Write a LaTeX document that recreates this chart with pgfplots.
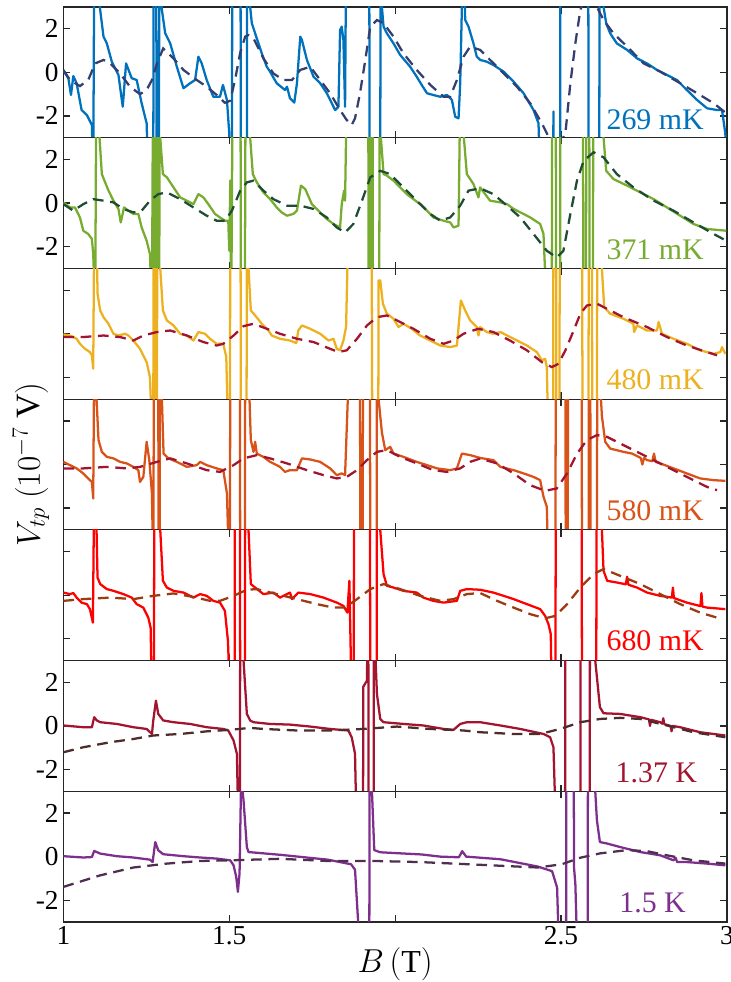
\documentclass[border=0pt]{standalone}
\usepackage{pgfplots}
\pgfplotsset{compat=1.18}
\usepackage{fontspec}
\setmainfont{Liberation Serif}
\definecolor{cA}{HTML}{0072BD}
\definecolor{dA}{HTML}{333F70}
\definecolor{cB}{HTML}{77AC30}
\definecolor{dB}{HTML}{1E4D33}
\definecolor{cC}{HTML}{EDB120}
\definecolor{dC}{HTML}{A2142F}
\definecolor{cD}{HTML}{D95319}
\definecolor{dD}{HTML}{A2142F}
\definecolor{cE}{HTML}{FF0000}
\definecolor{dE}{HTML}{9C3A12}
\definecolor{cF}{HTML}{A2142F}
\definecolor{dF}{HTML}{4E2C2C}
\definecolor{cG}{HTML}{7E2F8E}
\definecolor{dG}{HTML}{4F2F4F}
\pgfplotsset{
 panel/.style={width=497.55pt,height=98pt,scale only axis,xmin=1,xmax=3,ymin=-3,ymax=3,
  xtick={1,1.5,2,2.5,3},ytick={-2,0,2},xticklabels={},yticklabels={\mbox{-2},\mbox{0},\mbox{2}},
  tick align=inside, tick pos=both, major tick length=5pt,
  axis line style={black!85,line width=0.9pt}, tick style={black!85,line width=0.9pt},
  ticklabel style={font=\fontsize{20.5}{24}\selectfont}}
}
\tikzset{
 sol/.style={line width=1.7pt,line join=round},
 dsh/.style={line width=1.7pt,dash pattern=on 8pt off 5pt},
 lab/.style={anchor=base east,font=\fontsize{22.4}{26}\selectfont}
}
\begin{document}
\begin{tikzpicture}
\useasboundingbox (-47.5pt,-45pt) rectangle (500pt,691.25pt);
% ---------- 269 mK
\begin{axis}[panel,at={(0pt,588pt)}]
\addplot[cA,sol] coordinates {(1.000,0.08)(1.015,-0.27)(1.023,-1.04)(1.030,-0.17)(1.040,-0.5)(1.055,-1.73)(1.071,-1.96)(1.086,-2.42)(1.090,-5)(1.093,5)(1.111,2.86)(1.121,1.64)(1.131,1.33)(1.146,0.49)(1.166,-0.12)(1.179,-1.58)(1.189,0.41)(1.206,-0.27)(1.221,-0.35)(1.236,-1.42)(1.251,-2.34)(1.256,-5)(1.271,-5)(1.272,5)(1.280,5)(1.281,-5)(1.288,-5)(1.289,5)(1.297,2.86)(1.307,1.79)(1.322,1.33)(1.342,0.26)(1.362,-0.73)(1.382,-0.5)(1.397,-0.35)(1.407,0.72)(1.417,0.41)(1.432,-0.35)(1.452,-1.12)(1.472,-1.12)(1.481,-0.58)(1.493,-1.27)(1.500,-2.8)(1.503,-5)(1.508,-5)(1.509,5)(1.534,5)(1.535,-5)(1.553,-5)(1.554,5)(1.563,3.0)(1.568,2.25)(1.578,1.79)(1.598,0.87)(1.613,0.26)(1.623,0.03)(1.643,-0.5)(1.668,-0.81)(1.674,-0.66)(1.683,-1.19)(1.696,-1.39)(1.704,-0.5)(1.714,1.64)(1.719,1.48)(1.734,0.57)(1.754,-0.2)(1.774,-0.5)(1.794,-0.96)(1.809,-1.42)(1.819,-1.73)(1.829,-1.58)(1.834,1.94)(1.839,2.1)(1.844,1.48)(1.849,-1.58)(1.852,5)(1.922,5)(1.923,-5)(1.955,-5)(1.956,5)(1.960,3.0)(1.965,2.1)(1.975,1.79)(1.995,1.33)(2.015,0.8)(2.045,0.26)(2.065,-0.2)(2.080,-0.58)(2.096,-0.96)(2.115,-1.04)(2.136,-1.12)(2.156,-1.04)(2.171,-1.27)(2.181,-2.04)(2.191,-2.11)(2.196,-0.5)(2.204,5)(2.208,5)(2.211,2.4)(2.221,2.1)(2.236,1.33)(2.246,0.72)(2.256,0.57)(2.276,0.49)(2.296,0.34)(2.327,0.03)(2.357,-0.43)(2.387,-0.96)(2.417,-1.73)(2.432,-2.34)(2.437,-5)(2.476,-5)(2.477,-1.8)(2.478,-5)(2.497,-5)(2.498,5)(2.582,5)(2.583,-5)(2.615,-5)(2.616,5)(2.628,3.0)(2.636,2.25)(2.648,1.79)(2.668,1.33)(2.699,1.03)(2.729,0.64)(2.759,0.41)(2.789,0.11)(2.819,-0.12)(2.849,-0.35)(2.879,-0.81)(2.910,-1.27)(2.940,-1.65)(2.970,-1.73)(2.985,-1.73)(2.995,-2.8)(3.0,-5)};
\addplot[dA,dsh] coordinates {(1.000,0.11)(1.020,-0.35)(1.050,-0.63)(1.075,-0.35)(1.096,0.41)(1.121,0.57)(1.141,0.41)(1.171,-0.05)(1.201,-0.66)(1.231,-1.0)(1.251,-0.81)(1.267,-0.35)(1.282,0.41)(1.301,1.1)(1.332,0.64)(1.362,0.11)(1.402,-0.35)(1.432,-0.66)(1.462,-1.04)(1.487,-1.4)(1.503,-1.3)(1.518,-0.3)(1.533,0.9)(1.548,1.64)(1.558,1.71)(1.573,1.56)(1.603,0.64)(1.633,-0.05)(1.663,-0.35)(1.689,-0.35)(1.714,0.11)(1.744,0.26)(1.774,-0.35)(1.804,-0.96)(1.834,-1.73)(1.854,-2.19)(1.869,-2.42)(1.879,-2.11)(1.894,-0.96)(1.910,0.57)(1.925,2.1)(1.945,2.4)(1.965,2.25)(1.995,1.64)(2.025,0.87)(2.065,0.11)(2.106,-0.58)(2.146,-1.12)(2.166,-1.12)(2.186,-0.35)(2.206,0.72)(2.226,1.18)(2.256,1.03)(2.286,0.57)(2.327,-0.05)(2.367,-0.66)(2.407,-1.42)(2.442,-2.34)(2.467,-3.1)(2.485,-3.6)(2.513,-2.8)(2.528,-0.5)(2.543,1.33)(2.558,2.86)(2.573,3.5)(2.594,3.5)(2.608,3.0)(2.628,2.4)(2.658,1.79)(2.699,1.18)(2.749,0.41)(2.799,0.03)(2.859,-0.5)(2.910,-0.96)(2.960,-1.42)(2.998,-1.88)};
\node[lab,text=cA] at (rel axis cs:0.972,0.06) {269 mK};
\end{axis}
% ---------- 371 mK
\begin{axis}[panel,at={(0pt,490pt)}]
\addplot[cB,sol] coordinates {(1.000,0.03)(1.020,-0.2)(1.035,-0.2)(1.050,-0.66)(1.060,-1.27)(1.075,-1.42)(1.086,-1.65)(1.090,-2.34)(1.096,-5)(1.099,5)(1.109,3.0)(1.116,1.33)(1.126,0.95)(1.136,0.57)(1.151,0.11)(1.166,-0.27)(1.173,-0.89)(1.183,-0.2)(1.196,-0.35)(1.211,-0.5)(1.226,-0.5)(1.236,-1.12)(1.251,-1.73)(1.261,-2.34)(1.267,-5)(1.270,5)(1.275,5)(1.276,-5)(1.281,-5)(1.282,5)(1.284,5)(1.285,-5)(1.289,-5)(1.290,5)(1.292,3.0)(1.300,1.33)(1.312,1.18)(1.332,0.72)(1.352,0.26)(1.372,0.11)(1.392,-0.05)(1.407,0.41)(1.422,0.26)(1.437,-0.05)(1.457,-0.5)(1.472,-0.66)(1.487,-0.81)(1.497,-0.81)(1.500,-2.19)(1.503,1.03)(1.506,-5)(1.510,5)(1.534,5)(1.535,-5)(1.547,-5)(1.549,5)(1.563,3.0)(1.571,1.33)(1.583,0.95)(1.603,0.49)(1.623,0.18)(1.643,-0.2)(1.658,-0.43)(1.674,-0.58)(1.693,-0.5)(1.704,-0.35)(1.716,0.8)(1.729,0.64)(1.749,-0.05)(1.769,-0.35)(1.794,-0.73)(1.814,-0.96)(1.834,-1.12)(1.839,-0.05)(1.846,0.57)(1.849,0.11)(1.854,5)(1.919,5)(1.920,-5)(1.922,-5)(1.923,5)(1.926,5)(1.927,-5)(1.929,-5)(1.930,5)(1.932,5)(1.933,-5)(1.952,-5)(1.953,5)(1.957,3.0)(1.965,1.33)(1.975,1.26)(1.995,1.03)(2.015,0.72)(2.035,0.41)(2.055,0.18)(2.075,-0.05)(2.096,-0.35)(2.115,-0.66)(2.146,-0.81)(2.166,-0.89)(2.176,-1.12)(2.191,-1.04)(2.196,5)(2.206,3.2)(2.216,1.33)(2.236,0.87)(2.251,0.26)(2.256,0.72)(2.286,0.11)(2.317,0.03)(2.337,-0.05)(2.357,-0.27)(2.387,-0.5)(2.407,-0.66)(2.437,-0.96)(2.447,-1.42)(2.457,-5)(2.472,-5)(2.473,5)(2.484,5)(2.485,-5)(2.497,-5)(2.498,5)(2.566,5)(2.567,-5)(2.575,-5)(2.576,5)(2.585,5)(2.586,-5)(2.596,-5)(2.597,5)(2.628,3.0)(2.636,1.48)(2.658,1.1)(2.699,0.8)(2.739,0.49)(2.779,0.18)(2.819,-0.2)(2.859,-0.58)(2.899,-0.96)(2.940,-1.19)(2.998,-1.27)};
\addplot[dB,dsh] coordinates {(1.000,-0.05)(1.030,-0.35)(1.060,-0.05)(1.090,0.18)(1.121,0.11)(1.151,0.03)(1.181,-0.27)(1.211,-0.43)(1.236,-0.35)(1.261,0.11)(1.286,0.41)(1.312,0.49)(1.352,0.18)(1.392,-0.2)(1.432,-0.58)(1.462,-0.81)(1.487,-0.81)(1.508,-0.35)(1.533,0.57)(1.553,0.95)(1.573,1.03)(1.603,0.57)(1.633,0.18)(1.674,-0.12)(1.714,-0.12)(1.754,-0.27)(1.794,-0.66)(1.824,-1.12)(1.849,-1.35)(1.874,-0.96)(1.900,0.11)(1.925,1.18)(1.955,1.48)(1.985,1.33)(2.025,0.72)(2.065,0.11)(2.106,-0.5)(2.136,-0.81)(2.166,-0.66)(2.196,-0.12)(2.221,0.57)(2.256,0.68)(2.296,0.41)(2.337,-0.12)(2.377,-0.66)(2.417,-1.42)(2.457,-2.19)(2.487,-2.5)(2.507,-2.19)(2.528,-0.5)(2.548,1.03)(2.568,1.94)(2.598,2.33)(2.628,2.1)(2.668,1.33)(2.718,0.72)(2.779,0.11)(2.839,-0.35)(2.899,-0.89)(2.960,-1.42)(2.998,-1.73)};
\node[lab,text=cB] at (rel axis cs:0.972,0.07) {371 mK};
\end{axis}
% ---------- 480 mK
\begin{axis}[panel,at={(0pt,392pt)},yticklabels={}]
\addplot[cC,sol] coordinates {(1.000,-0.03)(1.020,-0.08)(1.040,-0.23)(1.050,-0.46)(1.065,-0.69)(1.080,-0.84)(1.086,-0.99)(1.090,-1.6)(1.093,5)(1.100,5)(1.103,1.84)(1.111,1.07)(1.121,0.76)(1.136,0.46)(1.151,0)(1.166,-0.08)(1.186,0)(1.196,-0.08)(1.211,-0.31)(1.231,-0.69)(1.251,-1.3)(1.261,-1.99)(1.268,-5)(1.271,-5)(1.272,5)(1.276,5)(1.277,-5)(1.282,-5)(1.283,5)(1.292,3.0)(1.300,1.07)(1.312,0.61)(1.332,0.38)(1.352,0)(1.372,-0.08)(1.392,-0.31)(1.407,0.08)(1.427,0)(1.442,-0.23)(1.462,-0.46)(1.482,-0.46)(1.491,-1.07)(1.497,-5)(1.502,-5)(1.503,5)(1.534,5)(1.535,-5)(1.552,-5)(1.553,5)(1.558,3.0)(1.565,1.07)(1.578,0.84)(1.598,0.46)(1.618,0.15)(1.628,-0.08)(1.653,-0.23)(1.683,-0.31)(1.702,-0.43)(1.708,0.15)(1.719,0.38)(1.744,0.23)(1.774,0)(1.799,-0.31)(1.814,-0.23)(1.824,-0.69)(1.834,-0.76)(1.844,-0.31)(1.852,0.31)(1.859,5)(1.929,5)(1.931,-5)(1.949,-5)(1.950,2.45)(1.955,2.45)(1.963,1.38)(1.975,0.92)(1.995,0.69)(2.010,0.31)(2.025,0.46)(2.050,0.23)(2.075,-0.08)(2.106,-0.31)(2.136,-0.54)(2.166,-0.61)(2.186,-0.54)(2.191,0.31)(2.198,1.53)(2.211,1.07)(2.226,0.61)(2.246,0.31)(2.251,-0.08)(2.256,0.31)(2.276,0.08)(2.296,0)(2.317,0.08)(2.357,-0.23)(2.397,-0.54)(2.427,-0.84)(2.442,-1.22)(2.452,-1.15)(2.457,-1.53)(2.462,-5)(2.476,-5)(2.477,5)(2.485,5)(2.486,-5)(2.495,-5)(2.496,5)(2.563,5)(2.565,-5)(2.582,-5)(2.584,5)(2.593,5)(2.594,-5)(2.608,-5)(2.609,5)(2.623,3.0)(2.630,1.22)(2.648,0.92)(2.688,0.69)(2.718,0.46)(2.720,0.08)(2.729,0.38)(2.759,0.15)(2.789,0.15)(2.794,0.54)(2.804,0)(2.839,-0.23)(2.879,-0.46)(2.919,-0.76)(2.960,-0.92)(2.980,-0.84)(2.985,-0.61)(2.995,-0.92)};
\addplot[dC,dsh] coordinates {(1.000,-0.15)(1.060,-0.15)(1.121,-0.08)(1.171,-0.15)(1.211,-0.31)(1.241,-0.08)(1.282,0.08)(1.322,0.15)(1.372,-0.08)(1.422,-0.38)(1.462,-0.54)(1.482,-0.46)(1.513,-0.08)(1.543,0.35)(1.573,0.46)(1.613,0.23)(1.653,0)(1.704,-0.23)(1.754,-0.38)(1.804,-0.69)(1.829,-0.84)(1.854,-0.76)(1.885,-0.23)(1.915,0.38)(1.945,0.76)(1.975,0.84)(2.015,0.54)(2.055,0.23)(2.106,-0.23)(2.146,-0.46)(2.176,-0.31)(2.206,0)(2.250,0.23)(2.296,0.08)(2.346,-0.31)(2.397,-0.76)(2.442,-1.3)(2.472,-1.53)(2.492,-1.38)(2.513,-0.76)(2.538,0.15)(2.558,0.92)(2.578,1.3)(2.608,1.38)(2.638,1.15)(2.688,0.76)(2.759,0.31)(2.819,-0.15)(2.879,-0.54)(2.940,-0.84)(2.970,-0.99)};
\node[lab,text=cC] at (rel axis cs:0.972,0.075) {480 mK};
\end{axis}
% ---------- 580 mK
\begin{axis}[panel,at={(0pt,294pt)},yticklabels={},
  ylabel={$V_{tp}\ (10^{-7}\ \mathrm{V})$},
  ylabel style={at={(axis description cs:-0.0487,0.5)},anchor=center,font=\fontsize{25.5}{30}\selectfont}]
\addplot[cD,sol] coordinates {(1.000,0.12)(1.020,-0.03)(1.040,-0.18)(1.060,-0.41)(1.080,-0.72)(1.086,-0.8)(1.090,-1.56)(1.093,5)(1.100,3.0)(1.106,1.12)(1.116,0.58)(1.131,0.35)(1.151,0.28)(1.171,0.12)(1.191,0.05)(1.211,-0.11)(1.226,-0.26)(1.231,-0.8)(1.241,-0.57)(1.251,1.04)(1.259,0.2)(1.267,-1.33)(1.271,-5)(1.273,5)(1.286,5)(1.287,-5)(1.290,-5)(1.291,5)(1.297,3.0)(1.302,0.5)(1.317,0.28)(1.342,0.12)(1.372,-0.11)(1.402,-0.03)(1.412,0.12)(1.432,-0.03)(1.462,-0.18)(1.482,-0.26)(1.493,-1.33)(1.500,-5)(1.502,-5)(1.503,5)(1.532,5)(1.533,-5)(1.547,-5)(1.548,5)(1.561,3.0)(1.565,1.12)(1.573,0.58)(1.578,1.04)(1.583,0.5)(1.603,0.35)(1.623,0.12)(1.653,-0.11)(1.668,-0.34)(1.683,-0.26)(1.704,-0.26)(1.719,0.28)(1.744,0.23)(1.774,0.12)(1.804,-0.18)(1.824,-0.49)(1.839,-0.41)(1.849,-0.49)(1.862,5)(1.894,5)(1.895,-5)(1.902,-5)(1.903,5)(1.924,5)(1.925,-5)(1.944,-5)(1.945,5)(1.950,3.0)(1.960,1.47)(1.970,0.66)(1.985,0.81)(1.995,0.5)(2.025,0.35)(2.065,0.12)(2.096,-0.03)(2.126,-0.18)(2.166,-0.26)(2.186,-0.18)(2.201,0.5)(2.226,0.43)(2.256,0.3)(2.296,0.2)(2.317,-0.11)(2.357,-0.26)(2.387,-0.41)(2.417,-0.57)(2.437,-0.72)(2.447,-1.48)(2.457,-1.94)(2.462,-5)(2.483,-5)(2.484,5)(2.513,5)(2.514,-5)(2.520,-5)(2.521,5)(2.562,5)(2.563,-5)(2.583,-5)(2.584,5)(2.588,5)(2.589,-5)(2.608,-5)(2.609,5)(2.613,5)(2.623,2.23)(2.633,1.04)(2.648,0.73)(2.688,0.58)(2.714,0.5)(2.740,0.3)(2.745,0.0)(2.750,0.3)(2.759,0.2)(2.775,0.15)(2.780,0.5)(2.785,0.12)(2.799,0.05)(2.839,-0.18)(2.879,-0.41)(2.919,-0.64)(2.960,-0.72)(2.995,-0.75)};
\addplot[dD,dsh] coordinates {(1.000,-0.18)(1.060,-0.18)(1.131,-0.11)(1.191,-0.18)(1.231,-0.11)(1.282,0.12)(1.322,0.28)(1.372,0.05)(1.432,-0.26)(1.472,-0.34)(1.513,-0.03)(1.543,0.28)(1.583,0.43)(1.623,0.28)(1.674,0.05)(1.734,-0.26)(1.784,-0.49)(1.824,-0.64)(1.854,-0.57)(1.885,-0.26)(1.915,0.2)(1.945,0.58)(1.975,0.66)(2.015,0.35)(2.065,0.05)(2.115,-0.26)(2.156,-0.34)(2.196,-0.18)(2.226,0.12)(2.256,0.27)(2.307,0.05)(2.357,-0.41)(2.407,-0.95)(2.452,-1.21)(2.487,-1.1)(2.518,-0.41)(2.548,0.5)(2.578,1.12)(2.608,1.35)(2.638,1.27)(2.688,0.89)(2.759,0.35)(2.819,-0.11)(2.879,-0.57)(2.940,-1.03)(2.970,-1.18)};
\node[lab,text=cD] at (rel axis cs:0.972,0.07) {580 mK};
\end{axis}
% ---------- 680 mK
\begin{axis}[panel,at={(0pt,196pt)},yticklabels={}]
\addplot[cE,sol] coordinates {(1.000,0.12)(1.020,0.05)(1.030,0.1)(1.040,-0.11)(1.055,-0.34)(1.071,-0.41)(1.080,-0.64)(1.089,-1.26)(1.093,5)(1.100,3.0)(1.103,0.81)(1.111,0.51)(1.131,0.28)(1.151,0.2)(1.181,0.05)(1.206,-0.11)(1.221,-0.41)(1.241,-0.57)(1.256,-1.03)(1.263,-1.49)(1.267,-5)(1.273,-5)(1.274,5)(1.292,3.0)(1.300,0.66)(1.312,0.35)(1.332,0.2)(1.362,0.12)(1.392,-0.11)(1.412,0.05)(1.432,-0.03)(1.452,-0.26)(1.472,-0.34)(1.487,-0.72)(1.496,-2.1)(1.503,-5)(1.516,-5)(1.517,5)(1.532,5)(1.533,-5)(1.547,-5)(1.548,5)(1.558,3.0)(1.565,0.51)(1.578,0.35)(1.603,0.05)(1.633,0.12)(1.653,-0.11)(1.683,0.12)(1.689,-0.18)(1.708,0.12)(1.744,0.05)(1.784,-0.11)(1.824,-0.34)(1.844,-0.49)(1.856,-0.8)(1.862,0.66)(1.869,-5)(1.875,-5)(1.876,5)(1.924,5)(1.925,-5)(1.944,-5)(1.945,5)(1.955,3.0)(1.965,0.97)(1.975,0.43)(1.995,0.35)(2.025,0.2)(2.065,0.12)(2.085,-0.11)(2.115,-0.26)(2.146,-0.34)(2.186,-0.26)(2.196,0.2)(2.216,0.28)(2.256,0.25)(2.296,0.12)(2.327,-0.03)(2.357,-0.18)(2.397,-0.41)(2.437,-0.64)(2.452,-0.95)(2.462,-1.33)(2.469,-1.79)(2.472,-5)(2.483,-5)(2.484,5)(2.562,5)(2.563,-5)(2.606,-5)(2.607,5)(2.623,3.0)(2.628,1.12)(2.639,0.66)(2.669,0.58)(2.695,0.5)(2.699,0.85)(2.703,0.48)(2.729,0.35)(2.759,0.12)(2.799,-0.03)(2.834,-0.11)(2.837,0.35)(2.840,-0.13)(2.879,-0.34)(2.920,-0.5)(2.923,0.1)(2.926,-0.52)(2.940,-0.57)(2.995,-0.64)};
\addplot[dE,dsh] coordinates {(1.000,-0.26)(1.060,-0.18)(1.141,-0.11)(1.211,-0.18)(1.271,-0.03)(1.332,0.08)(1.392,-0.08)(1.442,-0.26)(1.472,-0.26)(1.513,-0.03)(1.553,0.25)(1.583,0.28)(1.643,0.05)(1.704,-0.18)(1.764,-0.41)(1.814,-0.57)(1.849,-0.57)(1.885,-0.18)(1.925,0.28)(1.965,0.51)(2.015,0.28)(2.075,-0.03)(2.136,-0.26)(2.176,-0.18)(2.216,0.05)(2.256,0.1)(2.307,-0.26)(2.357,-0.57)(2.407,-0.87)(2.452,-1.06)(2.483,-0.95)(2.518,-0.41)(2.558,0.35)(2.598,0.97)(2.628,1.2)(2.678,0.89)(2.739,0.51)(2.799,0.05)(2.859,-0.41)(2.919,-0.8)(2.970,-1.03)};
\node[lab,text=cE] at (rel axis cs:0.972,0.075) {680 mK};
\end{axis}
% ---------- 1.37 K
\begin{axis}[panel,at={(0pt,98pt)}]
\addplot[cF,sol] coordinates {(1.000,0.02)(1.060,-0.06)(1.086,-0.06)(1.093,0.4)(1.101,0.25)(1.111,0.17)(1.161,0.09)(1.211,-0.06)(1.251,-0.14)(1.267,-0.37)(1.271,0.25)(1.279,1.16)(1.286,0.55)(1.301,0.25)(1.332,0.17)(1.382,0.09)(1.432,-0.06)(1.482,-0.14)(1.497,-0.21)(1.513,-0.67)(1.523,-1.28)(1.528,-5)(1.532,-5)(1.533,5)(1.543,3.0)(1.553,0.55)(1.563,0.25)(1.573,0.17)(1.623,0.09)(1.683,0.06)(1.744,-0.03)(1.804,-0.14)(1.859,-0.21)(1.869,-0.52)(1.879,-1.28)(1.884,-5)(1.903,-5)(1.904,1.8)(1.915,2.08)(1.917,5)(1.919,5)(1.920,-5)(1.935,-5)(1.936,5)(1.945,1.47)(1.955,0.32)(1.965,0.17)(2.025,0.09)(2.085,0.02)(2.146,-0.14)(2.176,-0.18)(2.196,0.09)(2.216,0.17)(2.256,0.17)(2.317,0.02)(2.377,-0.14)(2.447,-0.37)(2.467,-0.52)(2.477,-0.98)(2.485,-5)(2.512,-5)(2.513,5)(2.558,5)(2.559,-5)(2.586,-5)(2.587,5)(2.603,3.0)(2.617,0.86)(2.628,0.58)(2.678,0.55)(2.739,0.4)(2.765,0.3)(2.768,0.0)(2.771,0.28)(2.799,0.17)(2.805,0.1)(2.808,0.35)(2.811,0.08)(2.830,0.0)(2.833,-0.25)(2.836,0.0)(2.859,-0.06)(2.919,-0.29)(2.995,-0.44)};
\addplot[dF,dsh] coordinates {(1.000,-1.21)(1.060,-0.98)(1.141,-0.75)(1.211,-0.6)(1.271,-0.44)(1.352,-0.37)(1.432,-0.25)(1.503,-0.18)(1.563,-0.09)(1.603,-0.14)(1.704,-0.21)(1.804,-0.21)(1.904,-0.14)(2.005,-0.03)(2.106,-0.14)(2.206,-0.21)(2.256,-0.29)(2.357,-0.37)(2.437,-0.37)(2.497,-0.14)(2.558,0.17)(2.618,0.32)(2.678,0.37)(2.739,0.32)(2.819,0.02)(2.899,-0.29)(2.995,-0.52)};
\node[lab,text=cF] at (rel axis cs:0.962,0.07) {1.37 K};
\end{axis}
% ---------- 1.5 K
\begin{axis}[panel,at={(0pt,0pt)},xticklabels={\mbox{1},\mbox{1.5},,\mbox{2.5},\mbox{3}},
  xlabel={$B\,(\mathrm{T})$},
  xlabel style={at={(axis description cs:0.5,0)},anchor=center,yshift=-32pt,font=\fontsize{24}{28}\selectfont}]
\addplot[cG,sol] coordinates {(1.000,0.02)(1.060,-0.04)(1.086,-0.02)(1.093,0.26)(1.111,0.14)(1.161,0.02)(1.211,-0.04)(1.261,-0.14)(1.269,-0.25)(1.277,0.67)(1.286,0.29)(1.301,0.11)(1.362,0.02)(1.412,-0.04)(1.462,-0.09)(1.503,-0.17)(1.513,-0.4)(1.521,-0.93)(1.526,-1.62)(1.531,-0.78)(1.535,2.89)(1.537,5)(1.540,3.0)(1.543,2.59)(1.553,0.44)(1.558,0.21)(1.656,0.08)(1.797,-0.14)(1.867,-0.35)(1.879,-0.6)(1.888,-2.9)(1.894,-5)(1.922,-5)(1.923,5)(1.930,3.0)(1.937,0.3)(1.955,0.2)(2.016,0.15)(2.079,0.1)(2.136,0.0)(2.192,-0.03)(2.202,0.25)(2.214,0.0)(2.317,-0.12)(2.361,-0.25)(2.431,-0.46)(2.473,-0.67)(2.488,-1.42)(2.495,-5)(2.515,-5)(2.516,5)(2.538,5)(2.539,-0.5)(2.543,-1.24)(2.550,-5)(2.580,-5)(2.581,5)(2.603,3.0)(2.608,1.67)(2.617,0.67)(2.639,0.6)(2.678,0.44)(2.739,0.21)(2.799,0.06)(2.839,-0.17)(2.845,-0.05)(2.850,-0.25)(2.879,-0.25)(2.940,-0.32)(2.995,-0.4)};
\addplot[dG,dsh] coordinates {(1.000,-1.39)(1.111,-0.86)(1.211,-0.5)(1.312,-0.32)(1.412,-0.2)(1.503,-0.17)(1.653,-0.1)(1.797,-0.2)(1.937,-0.2)(2.075,-0.25)(2.220,-0.35)(2.431,-0.5)(2.502,-0.35)(2.558,-0.05)(2.618,0.15)(2.699,0.3)(2.759,0.25)(2.819,0.06)(2.899,-0.17)(2.995,-0.32)};
\node[lab,text=cG] at (rel axis cs:0.945,0.075) {1.5 K};
\end{axis}
\end{tikzpicture}
\end{document}
